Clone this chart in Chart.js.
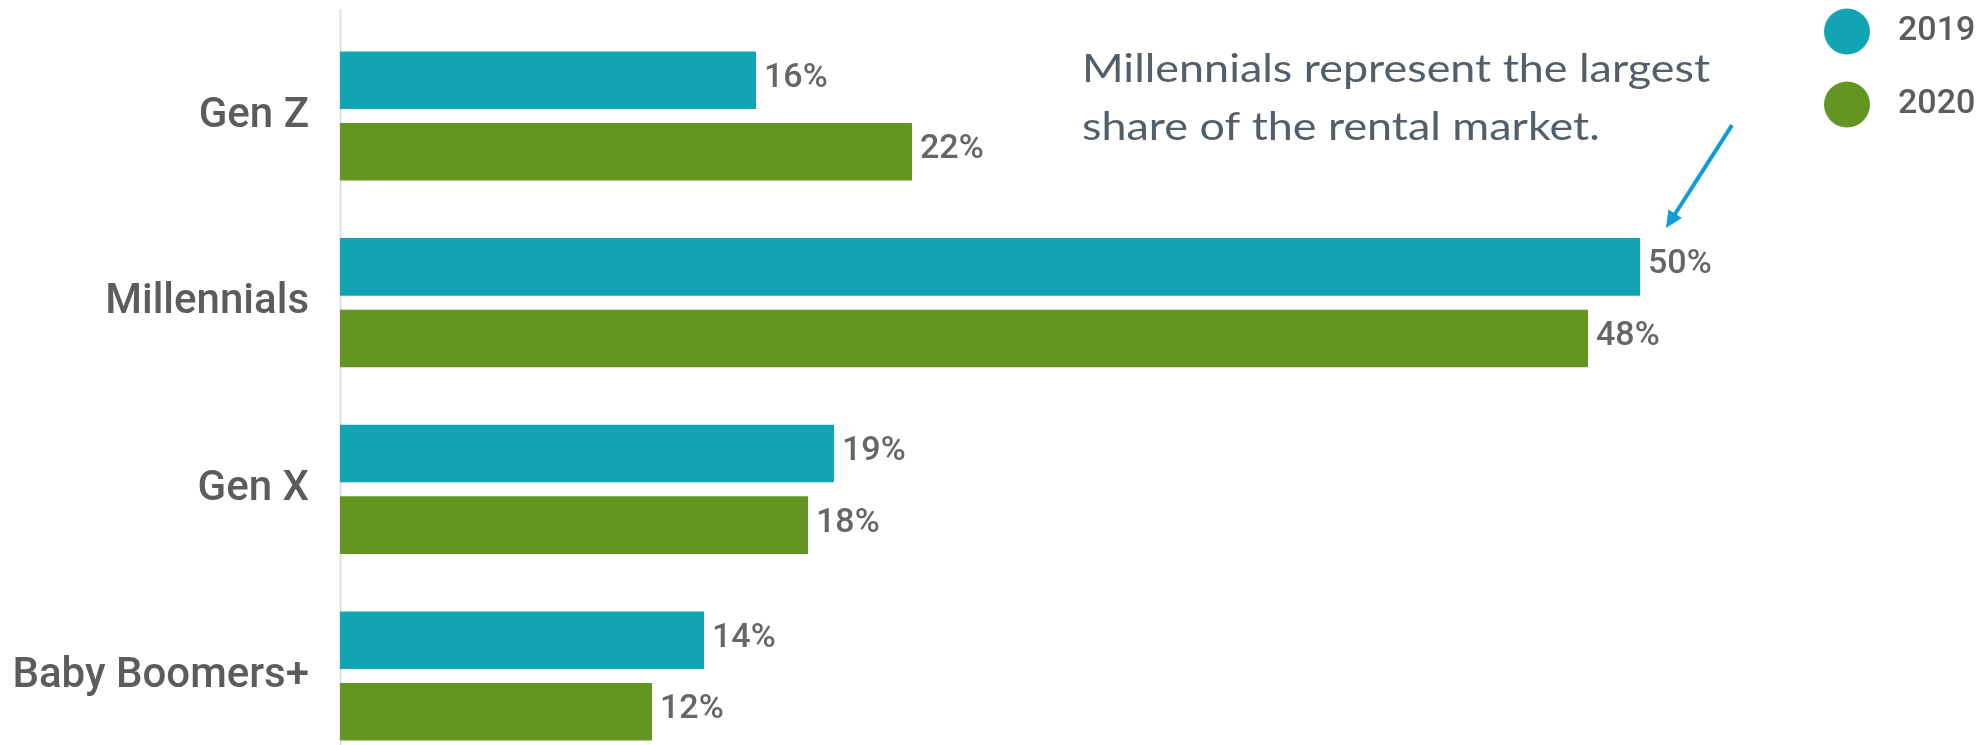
<!DOCTYPE html>
<html>
<head>
<meta charset="utf-8">
<script src="https://cdn.jsdelivr.net/npm/chart.js@4.4.1/dist/chart.umd.min.js"></script>
<style>
html, body { margin: 0; padding: 0; background: #fff; overflow: hidden; }
#wrap { width: 1987px; height: 745px; position: relative; }
</style>
</head>
<body>
<div id="wrap"><canvas id="renters-chart"></canvas></div>
<script>
// values (share of renters, %)
const generations = ['Gen Z', 'Millennials', 'Gen X', 'Baby Boomers+'];
const share2019 = [16, 50, 19, 14];
const share2020 = [22, 48, 18, 12];
const seriesNames = ['2019', '2020'];
const seriesColors = ['#13a4b4', '#649523'];
const noteLines = ['Millennials represent the largest', 'share of the rental market.'];

const canvas = document.getElementById('renters-chart');
const ctx = canvas.getContext('2d');

// light vertical axis line at zero, running the full height
const zeroLine = {
  id: 'zeroLine',
  beforeDatasetsDraw(chart) {
    const c = chart.ctx;
    const x = Math.round(chart.scales.x.getPixelForValue(0)) + 0.5;
    c.save();
    c.strokeStyle = '#e0e0e0';
    c.lineWidth = 2;
    c.beginPath();
    c.moveTo(x, 9);
    c.lineTo(x, chart.height);
    c.stroke();
    c.restore();
  }
};

// "16%" style labels at the end of each bar
const valueLabels = {
  id: 'valueLabels',
  afterDatasetsDraw(chart) {
    const c = chart.ctx;
    c.save();
    c.font = '500 34px Roboto';
    c.fillStyle = '#666666';
    c.textAlign = 'left';
    c.textBaseline = 'middle';
    chart.data.datasets.forEach((ds, i) => {
      chart.getDatasetMeta(i).data.forEach((bar, j) => {
        c.fillText(ds.data[j] + '%', bar.x + 8, bar.y - 2);
      });
    });
    c.restore();
  }
};

// round legend markers in the top right corner
const sideLegend = {
  id: 'sideLegend',
  afterDraw(chart) {
    const c = chart.ctx;
    c.save();
    c.font = '500 34px Roboto';
    c.textBaseline = 'middle';
    chart.data.datasets.forEach((ds, i) => {
      const cy = 31.5 + i * 73;
      c.fillStyle = ds.backgroundColor;
      c.beginPath();
      c.arc(1847, cy, 23, 0, Math.PI * 2);
      c.fill();
      c.fillStyle = '#5c5c5c';
      c.fillText(ds.label, 1898, cy);
    });
    c.restore();
  }
};

// callout text plus the blue arrow pointing at the millennials 2019 bar
const callout = {
  id: 'callout',
  afterDraw(chart) {
    const c = chart.ctx;
    c.save();
    c.font = '38px Lato';
    c.fillStyle = '#535e69';
    c.textBaseline = 'alphabetic';
    // the note in the picture is set wider than Lato, stretch it to the same width
    const stretch = 628 / c.measureText(noteLines[0]).width;
    c.save();
    c.translate(1082, 0);
    c.scale(stretch, 1);
    noteLines.forEach((line, i) => c.fillText(line, 0, 82 + i * 58));
    c.restore();

    const bar = chart.getDatasetMeta(0).data[1];
    const tipX = bar.x + 26;
    const tipY = bar.y - bar.height / 2 - 10;
    const startX = tipX + 66;
    const startY = tipY - 103;
    const ang = Math.atan2(tipY - startY, tipX - startX);
    const head = 17, half = 8;
    c.strokeStyle = '#109cdb';
    c.fillStyle = '#109cdb';
    c.lineWidth = 4;
    c.beginPath();
    c.moveTo(startX, startY);
    c.lineTo(tipX - Math.cos(ang) * (head - 2), tipY - Math.sin(ang) * (head - 2));
    c.stroke();
    c.beginPath();
    c.moveTo(tipX, tipY);
    c.lineTo(tipX - head * Math.cos(ang) + half * Math.sin(ang), tipY - head * Math.sin(ang) - half * Math.cos(ang));
    c.lineTo(tipX - head * Math.cos(ang) - half * Math.sin(ang), tipY - head * Math.sin(ang) + half * Math.cos(ang));
    c.closePath();
    c.fill();
    c.restore();
  }
};

new Chart(ctx, {
  type: 'bar',
  data: {
    labels: generations,
    datasets: [
      { label: seriesNames[0], data: share2019, backgroundColor: seriesColors[0] },
      { label: seriesNames[1], data: share2020, backgroundColor: seriesColors[1] }
    ]
  },
  options: {
    indexAxis: 'y',
    responsive: true,
    maintainAspectRatio: false,
    animation: false,
    layout: { padding: { top: 116, bottom: 69, left: 0, right: 87 } },
    datasets: {
      bar: { categoryPercentage: 0.767, barPercentage: 0.804, clip: false }
    },
    scales: {
      x: { display: false, min: 0, max: 60 },
      y: {
        offset: false,
        grid: { display: false, drawTicks: false },
        border: { display: false },
        ticks: {
          padding: 31,
          color: '#5c5c5c',
          font: { family: 'Roboto', size: 42, weight: '500' }
        },
        afterFit(scale) { scale.width = 340; }
      }
    },
    plugins: {
      legend: { display: false },
      tooltip: { enabled: false }
    }
  },
  plugins: [zeroLine, valueLabels, sideLegend, callout]
});
</script>
</body>
</html>
